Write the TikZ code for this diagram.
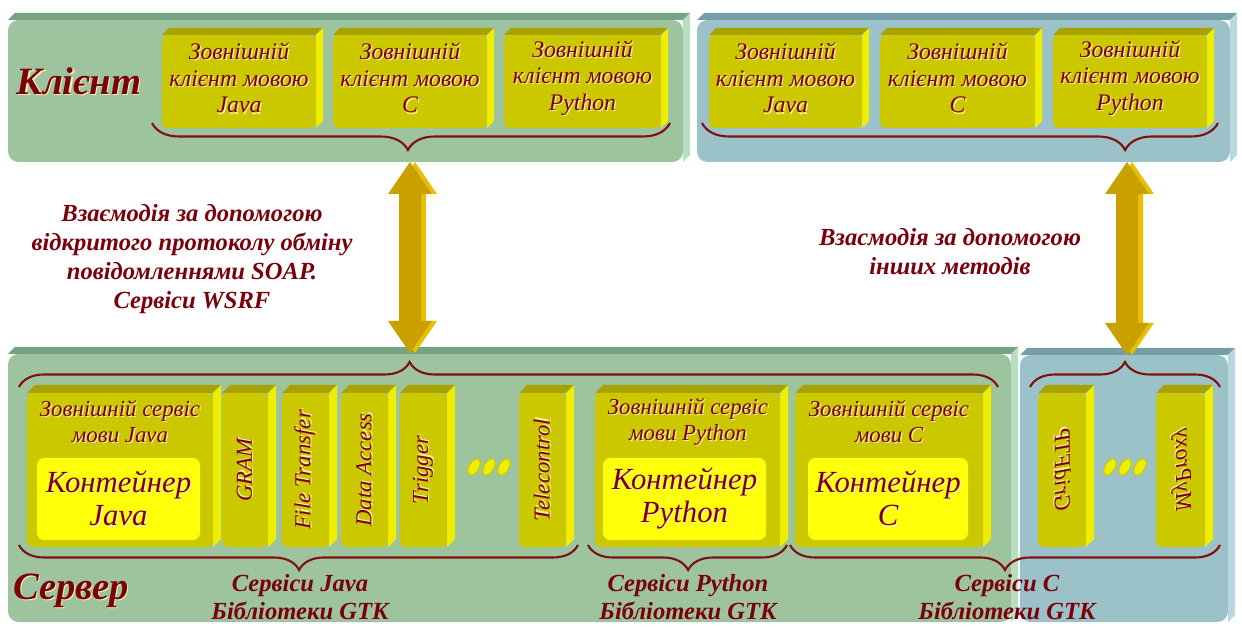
\documentclass[tikz,border=0pt]{standalone}
\usepackage{fontspec}
\setmainfont{Liberation Serif}
\usetikzlibrary{calc,fit,decorations.pathreplacing}

\definecolor{pgreen}{RGB}{157,196,159}
\definecolor{pgreentop}{RGB}{120,162,132}
\definecolor{pgreenside}{RGB}{186,222,192}
\definecolor{pblue}{RGB}{155,194,200}
\definecolor{pbluetop}{RGB}{118,158,166}
\definecolor{pblueside}{RGB}{184,216,222}
\definecolor{boxfront}{RGB}{204,200,0}
\definecolor{boxtop}{RGB}{168,162,0}
\definecolor{boxside}{RGB}{240,238,0}
\definecolor{inner}{RGB}{255,255,10}
\definecolor{ink}{RGB}{122,0,12}
\definecolor{glow}{RGB}{255,240,175}
\definecolor{brc}{RGB}{128,16,16}
\definecolor{arrowfront}{RGB}{201,160,0}
\definecolor{arrowlight}{RGB}{232,192,0}

\pgfdeclarelayer{panels}
\pgfdeclarelayer{faces}
\pgfsetlayers{panels,faces,main}

% text with a light embossed shadow
\newcommand\emb[1]{\leavevmode\rlap{\kern0.7pt\raisebox{-0.7pt}{\textcolor{glow}{#1}}}#1}

% flat front face of a block, given by its corners in pixels
\newcommand\slab[6]{%
  \coordinate (#1-a) at (#2,#3);
  \coordinate (#1-b) at (#4,#5);
  \node[#6, fit=(#1-a)(#1-b), inner sep=0pt, outer sep=0pt] (#1) {};
}
% top and right faces giving a block its depth
\newcommand\extrude[4]{%
  \fill[#3] (#1.north west) -- ++(#2,-#2) -- ($(#1.north east)+(#2,-#2)$) -- (#1.north east) -- cycle;
  \fill[#4] (#1.north east) -- ++(#2,-#2) -- ($(#1.south east)+(#2,-#2)$) -- (#1.south east) -- cycle;
}
% outline of a double-headed block arrow between two points, shifted by #3
\newcommand\arrowshape[3]{($(#1)+(#3,0)$) -- ($(#1)+({22+#3},32)$) -- ($(#1)+({11+#3},32)$)
  -- ($(#2)+({11+#3},-32)$) -- ($(#2)+({22+#3},-32)$) -- ($(#2)+(#3,0)$)
  -- ($(#2)+({-22+#3},-32)$) -- ($(#2)+({-11+#3},-32)$) -- ($(#1)+({-11+#3},32)$)
  -- ($(#1)+({-22+#3},32)$) -- cycle}

\begin{document}
\begin{tikzpicture}[x=0.02cm, y=-0.02cm,
  every node/.style={text=ink},
  pg/.style={fill=pgreen, rounded corners=6pt},
  pb/.style={fill=pblue, rounded corners=6pt},
  blk/.style={fill=boxfront, rounded corners=3pt},
  cont/.style={fill=inner, rounded corners=4pt},
  lbl/.style={font=\fontsize{13.5}{15.2}\selectfont\itshape, align=center},
  ttl/.style={font=\fontsize{13}{14.8}\selectfont\itshape, align=center},
  conttext/.style={font=\fontsize{17.5}{19}\selectfont\itshape, align=center},
  vert/.style={rotate=90, font=\fontsize{13}{14}\selectfont\itshape},
  big/.style={font=\fontsize{22}{24}\selectfont\bfseries\itshape},
  mid/.style={font=\fontsize{14}{16.5}\selectfont\bfseries\itshape, align=center},
  bot/.style={font=\fontsize{14}{15.5}\selectfont\bfseries\itshape, align=center},
  curly/.style={decorate, draw=brc, line width=1.2pt},
  dot/.style={fill=boxside, draw=boxfront, line width=0.6pt}
]
\useasboundingbox (0,0) rectangle (1242,628);

% ---------- panels ----------
\begin{pgfonlayer}{panels}
  \fill[white] (0,0) rectangle (1242,628);
  \slab{cli}{8}{20}{683}{162}{pg}
  \extrude{cli}{7}{pgreentop}{pgreenside}
  \slab{clo}{697}{20}{1230}{162}{pb}
  \extrude{clo}{7}{pbluetop}{pblueside}
  \slab{srv}{8}{354}{1011}{622}{pg}
  \extrude{srv}{7}{pgreentop}{pgreenside}
  \slab{sro}{1020}{355}{1228}{622}{pb}
  \extrude{sro}{7}{pbluetop}{pblueside}
\end{pgfonlayer}

% ---------- client blocks ----------
\slab{cj}{162}{35}{316}{128}{blk}
\slab{cc}{333}{35}{487}{128}{blk}
\slab{cp}{504}{35}{661}{128}{blk}
\slab{rj}{709}{35}{862}{128}{blk}
\slab{rc}{880}{35}{1035}{128}{blk}
\slab{rp}{1053}{35}{1207}{128}{blk}

% ---------- server blocks ----------
\slab{sj}{27}{393}{213}{547}{blk}
\slab{gram}{222}{393}{268}{547}{blk}
\slab{ftr}{282}{393}{329}{547}{blk}
\slab{dac}{341}{393}{388}{547}{blk}
\slab{trg}{400}{393}{447}{547}{blk}
\slab{tel}{519}{393}{566}{547}{blk}
\slab{sp}{595}{393}{780}{547}{blk}
\slab{sc}{795}{393}{983}{547}{blk}
\slab{gftp}{1038}{393}{1086}{547}{blk}
\slab{mpx}{1156}{393}{1205}{547}{blk}

\begin{pgfonlayer}{faces}
  \foreach \n in {cj,cc,cp,rj,rc,rp}{\extrude{\n}{7}{boxtop}{boxside}}
  \foreach \n in {sj,gram,ftr,dac,trg,tel,sp,sc,gftp,mpx}{\extrude{\n}{8}{boxtop}{boxside}}
\end{pgfonlayer}

% containers inside the service blocks
\slab{sjc}{37}{458}{200}{540}{cont}
\slab{spc}{603}{458}{766}{540}{cont}
\slab{scc}{808}{458}{968}{540}{cont}

% ---------- texts ----------
\node[big] (klient) at (79,82) {\emb{Клієнт}};
\node[big] (server) at (71,591) {\emb{Сервер}};

\node[lbl] (cj-t) at ($(cj)+(0,-3)$) {\emb{Зовнішній}\\\emb{клієнт мовою}\\\emb{Java}};
\node[lbl] (cc-t) at ($(cc)+(0,-3)$) {\emb{Зовнішній}\\\emb{клієнт мовою}\\\emb{C}};
\node[lbl] (cp-t) at ($(cp)+(0,-3)$) {\emb{Зовнішній}\\\emb{клієнт мовою}\\\emb{Python}};
\node[lbl] (rj-t) at ($(rj)+(0,-3)$) {\emb{Зовнішній}\\\emb{клієнт мовою}\\\emb{Java}};
\node[lbl] (rc-t) at ($(rc)+(0,-3)$) {\emb{Зовнішній}\\\emb{клієнт мовою}\\\emb{C}};
\node[lbl] (rp-t) at ($(rp)+(0,-3)$) {\emb{Зовнішній}\\\emb{клієнт мовою}\\\emb{Python}};

\node[ttl] (sj-t) at (120,422) {\emb{Зовнішній сервіс}\\\emb{мови Java}};
\node[ttl] (sp-t) at (688,422) {\emb{Зовнішній сервіс}\\\emb{мови Python}};
\node[ttl] (sc-t) at (889,422) {\emb{Зовнішній сервіс}\\\emb{мови C}};
\node[conttext] (sjc-t) at (sjc) {\emb{Контейнер}\\\emb{Java}};
\node[conttext] (spc-t) at (spc) {\emb{Контейнер}\\\emb{Python}};
\node[conttext] (scc-t) at (scc) {\emb{Контейнер}\\\emb{C}};

\node[vert] (gram-t) at (gram) {\emb{GRAM}};
\node[vert] (ftr-t) at (ftr) {\emb{File Transfer}};
\node[vert] (dac-t) at (dac) {\emb{Data Access}};
\node[vert] (trg-t) at (trg) {\emb{Trigger}};
\node[vert] (tel-t) at (tel) {\emb{Telecontrol}};
\node[vert, yscale=-1] (gftp-t) at (gftp) {\emb{GridFTP}};
\node[vert, yscale=-1] (mpx-t) at (mpx) {\emb{MyProxy}};

% ellipsis marks between the blocks
\foreach \cx in {474,489,504}{\fill[dot, rotate around={-30:(\cx,467)}] (\cx,467) ellipse [x radius=5, y radius=9];}
\foreach \cx in {1110,1125,1140}{\fill[dot, rotate around={-30:(\cx,467)}] (\cx,467) ellipse [x radius=5, y radius=9];}

\node[mid] (soap) at (192,259) {Взаємодія за допомогою\\відкритого протоколу обміну\\повідомленнями SOAP.\\Сервіси WSRF};
\node[mid] (other) at (950,252) {Взасмодія за допомогою\\інших методів};

\node[bot] (libj) at (300,597) {Сервіси Java\\Бібліотеки GTK};
\node[bot] (libp) at (688,597) {Сервіси Python\\Бібліотеки GTK};
\node[bot] (libc) at (1007,597) {Сервіси C\\Бібліотеки GTK};

% ---------- braces ----------
\coordinate (b1r) at (670,123); \coordinate (b1l) at (152,123);
\draw[curly, decoration={brace, amplitude=0.54cm, aspect=0.506}] (b1r) -- (b1l);
\coordinate (b2r) at (1218,123); \coordinate (b2l) at (702,123);
\draw[curly, decoration={brace, amplitude=0.54cm, aspect=0.18}] (b2r) -- (b2l);

\coordinate (b3l) at (19,387); \coordinate (b3r) at (998,387);
\draw[curly, decoration={brace, amplitude=0.5cm, aspect=0.399}] (b3l) -- (b3r);
\coordinate (b4l) at (1030,387); \coordinate (b4r) at (1220,387);
\draw[curly, decoration={brace, amplitude=0.5cm, aspect=0.5}] (b4l) -- (b4r);

\coordinate (b5r) at (578,545); \coordinate (b5l) at (19,545);
\draw[curly, decoration={brace, amplitude=0.5cm, aspect=0.499}] (b5r) -- (b5l);
\coordinate (b6r) at (787,545); \coordinate (b6l) at (588,545);
\draw[curly, decoration={brace, amplitude=0.5cm, aspect=0.497}] (b6r) -- (b6l);
\coordinate (b7r) at (1220,545); \coordinate (b7l) at (790,545);
\draw[curly, decoration={brace, amplitude=0.5cm, aspect=0.5}] (b7r) -- (b7l);

% ---------- exchange arrows ----------
\coordinate (al-t) at (410,162); \coordinate (al-b) at (410,353);
\coordinate (ar-t) at (1127,162); \coordinate (ar-b) at (1127,355);
\fill[arrowlight] \arrowshape{al-t}{al-b}{5};
\fill[arrowfront] \arrowshape{al-t}{al-b}{0};
\fill[arrowlight] \arrowshape{ar-t}{ar-b}{5};
\fill[arrowfront] \arrowshape{ar-t}{ar-b}{0};
\end{tikzpicture}
\end{document}
